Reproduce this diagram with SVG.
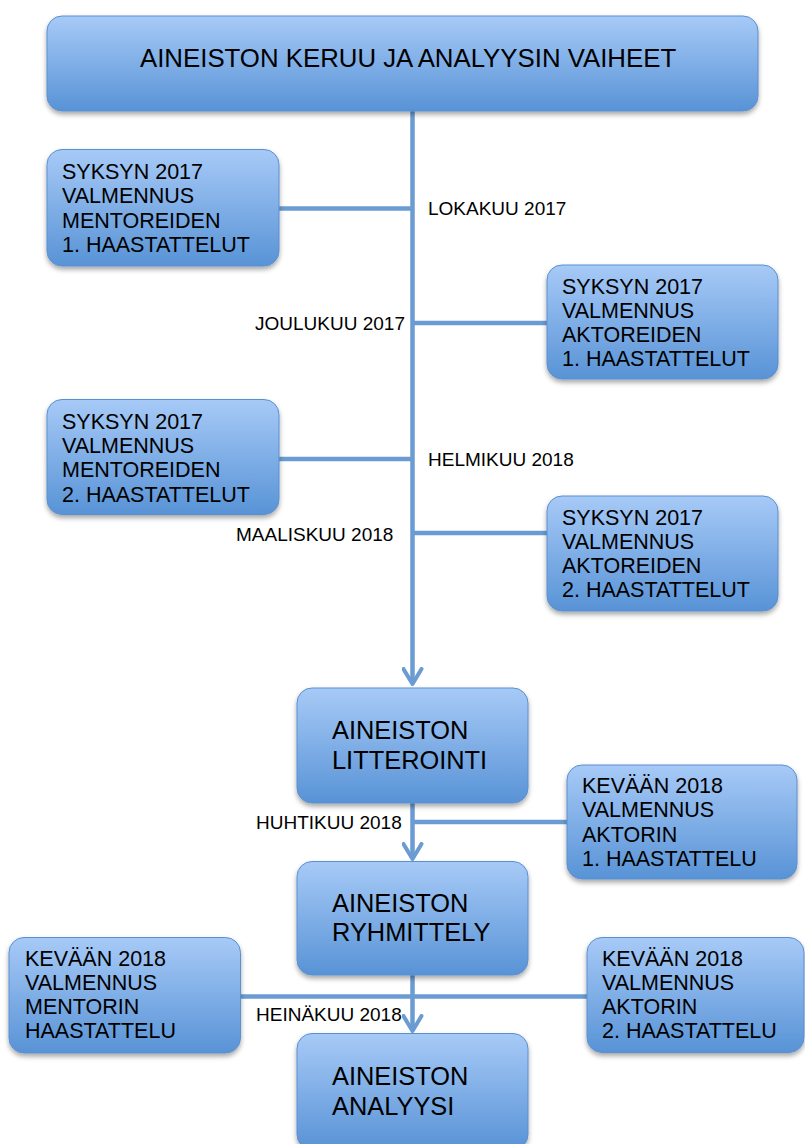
<svg xmlns="http://www.w3.org/2000/svg" width="805" height="1144" viewBox="0 0 805 1144">
<defs>
<linearGradient id="g" x1="0" y1="0" x2="0" y2="1">
<stop offset="0" stop-color="#a7caf7"/>
<stop offset="1" stop-color="#5893d6"/>
</linearGradient>
<filter id="sh" x="-10%" y="-10%" width="120%" height="130%">
<feDropShadow dx="0" dy="3" stdDeviation="2.5" flood-color="#000" flood-opacity="0.35"/>
</filter>
<marker id="ah" viewBox="0 0 20 22" refX="17" refY="11" markerWidth="20" markerHeight="22" markerUnits="userSpaceOnUse" orient="auto">
<path d="M2,2 L17,11 L2,20" fill="none" stroke="#6a9cd3" stroke-width="4" stroke-linecap="round" stroke-linejoin="round"/>
</marker>
</defs>
<style>
.box{fill:url(#g);stroke:#5a8fd0;stroke-width:1;filter:url(#sh)}
.t{font-family:"Liberation Sans",Arial,sans-serif;fill:#000}
.s{font-size:21.5px}
.b{font-size:25.4px}
.h{font-size:25.8px}
.l{font-size:19px}
.c{fill:none;stroke:#6a9cd3;stroke-width:4.5}
</style>
<rect width="805" height="1144" fill="#fff"/>
<g id="connectors">
<line class="c" x1="412.5" y1="111" x2="412.5" y2="684" marker-end="url(#ah)"/>
<line class="c" x1="412.5" y1="803" x2="412.5" y2="859" marker-end="url(#ah)"/>
<line class="c" x1="412.5" y1="975" x2="412.5" y2="1031" marker-end="url(#ah)"/>
<line class="c" x1="279" y1="208.5" x2="412.5" y2="208.5"/>
<line class="c" x1="412.5" y1="323" x2="547" y2="323"/>
<line class="c" x1="279" y1="459" x2="412.5" y2="459"/>
<line class="c" x1="412.5" y1="533" x2="547" y2="533"/>
<line class="c" x1="412.5" y1="822" x2="567" y2="822"/>
<line class="c" x1="240" y1="996.5" x2="587" y2="996.5"/>
</g>
<g id="labels">
<text class="t l" x="428" y="215">LOKAKUU 2017</text>
<text class="t l" x="255" y="330">JOULUKUU 2017</text>
<text class="t l" x="428" y="466">HELMIKUU 2018</text>
<text class="t l" x="236" y="541">MAALISKUU 2018</text>
<text class="t l" x="256" y="829">HUHTIKUU 2018</text>
<text class="t l" x="256" y="1021">HEINÄKUU 2018</text>
</g>
<g id="title">
<rect class="box" x="47" y="16" width="711" height="95" rx="15"/>
<text class="t h" x="140" y="67">AINEISTON KERUU JA ANALYYSIN VAIHEET</text>
</g>
<g id="mentor1">
<rect class="box" x="47" y="149.5" width="232" height="116.5" rx="15"/>
<text class="t s" x="62" y="179"><tspan x="62">SYKSYN 2017</tspan><tspan x="62" dy="24.4">VALMENNUS</tspan><tspan x="62" dy="24.4">MENTOREIDEN</tspan><tspan x="62" dy="24.4">1. HAASTATTELUT</tspan></text>
</g>
<g id="aktor1">
<rect class="box" x="547" y="265" width="231" height="114" rx="15"/>
<text class="t s" x="562" y="293.5"><tspan x="562">SYKSYN 2017</tspan><tspan x="562" dy="24.3">VALMENNUS</tspan><tspan x="562" dy="24.3">AKTOREIDEN</tspan><tspan x="562" dy="24.3">1. HAASTATTELUT</tspan></text>
</g>
<g id="mentor2">
<rect class="box" x="47" y="399.5" width="232" height="115" rx="15"/>
<text class="t s" x="62" y="428.5"><tspan x="62">SYKSYN 2017</tspan><tspan x="62" dy="24.4">VALMENNUS</tspan><tspan x="62" dy="24.4">MENTOREIDEN</tspan><tspan x="62" dy="24.4">2. HAASTATTELUT</tspan></text>
</g>
<g id="aktor2">
<rect class="box" x="547" y="496" width="231" height="115" rx="15"/>
<text class="t s" x="562" y="524.5"><tspan x="562">SYKSYN 2017</tspan><tspan x="562" dy="24.3">VALMENNUS</tspan><tspan x="562" dy="24.3">AKTOREIDEN</tspan><tspan x="562" dy="24.3">2. HAASTATTELUT</tspan></text>
</g>
<g id="litterointi">
<rect class="box" x="297" y="688" width="231" height="115" rx="15"/>
<text class="t b" x="332" y="739"><tspan x="332">AINEISTON</tspan><tspan x="332" dy="29.5">LITTEROINTI</tspan></text>
</g>
<g id="aktorin1">
<rect class="box" x="567" y="765" width="230" height="114" rx="15"/>
<text class="t s" x="582" y="792.5"><tspan x="582">KEVÄÄN 2018</tspan><tspan x="582" dy="24.5">VALMENNUS</tspan><tspan x="582" dy="24.5">AKTORIN</tspan><tspan x="582" dy="24.5">1. HAASTATTELU</tspan></text>
</g>
<g id="ryhmittely">
<rect class="box" x="297" y="861.5" width="231" height="113.5" rx="15"/>
<text class="t b" x="332" y="911.5"><tspan x="332">AINEISTON</tspan><tspan x="332" dy="29.5">RYHMITTELY</tspan></text>
</g>
<g id="mentorin">
<rect class="box" x="9" y="937.5" width="231.5" height="115.5" rx="15"/>
<text class="t s" x="25" y="965.5"><tspan x="25">KEVÄÄN 2018</tspan><tspan x="25" dy="24.3">VALMENNUS</tspan><tspan x="25" dy="24.3">MENTORIN</tspan><tspan x="25" dy="24.3">HAASTATTELU</tspan></text>
</g>
<g id="aktorin2">
<rect class="box" x="587" y="937.5" width="217" height="115" rx="15"/>
<text class="t s" x="602" y="965.5"><tspan x="602">KEVÄÄN 2018</tspan><tspan x="602" dy="24.3">VALMENNUS</tspan><tspan x="602" dy="24.3">AKTORIN</tspan><tspan x="602" dy="24.3">2. HAASTATTELU</tspan></text>
</g>
<g id="analyysi">
<rect class="box" x="297" y="1033.5" width="231" height="116" rx="15"/>
<text class="t b" x="332" y="1085"><tspan x="332">AINEISTON</tspan><tspan x="332" dy="30">ANALYYSI</tspan></text>
</g>
</svg>
